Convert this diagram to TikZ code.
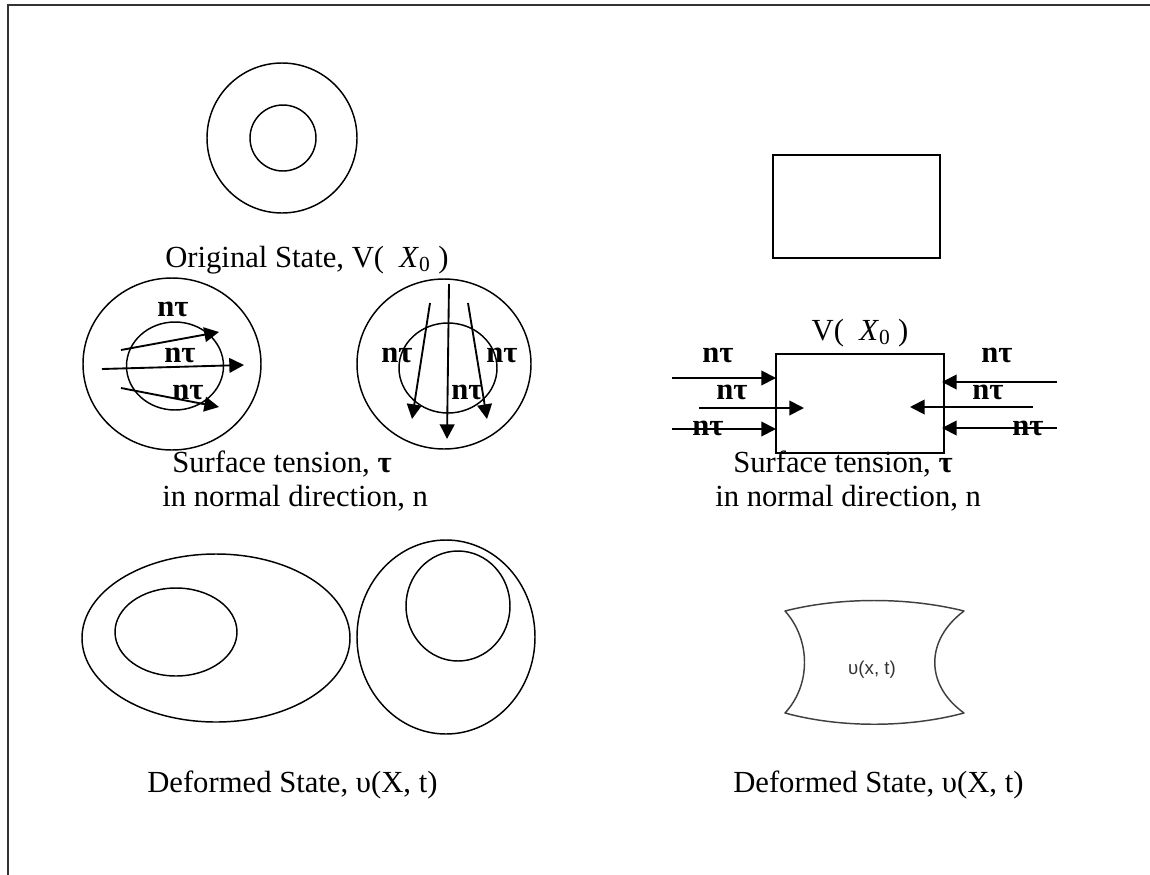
\documentclass[tikz,border=0pt]{standalone}
\usepackage{fontspec}
\setmainfont{Liberation Serif}
\newfontfamily\labelsans{Liberation Sans}
\usetikzlibrary{arrows.meta}
\tikzset{
  outline/.style={line width=1.1pt},
  force/.style={line width=1.4pt,-{Triangle[length=11pt,width=11pt]}},
  caption/.style={font=\fontsize{23}{27}\selectfont,inner sep=0pt,anchor=base west},
  ntau/.style={font=\fontsize{23}{27}\selectfont\bfseries,inner sep=0pt},
}
\newcommand{\Vzero}{V(\hspace{0.5em}\textit{X}\textsubscript{0}\hspace{0.25em})}
\begin{document}
\begin{tikzpicture}[x=0.75pt,y=-0.75pt]
\useasboundingbox (0,0) rectangle (1150,875);
% page frame
\draw[black!80,line width=1.5pt] (8,875) -- (8,5) -- (1150,5);

% ---- original state, ring
\draw[outline] (282,138) circle (75);
\draw[outline] (283,138) circle (33);
\node[caption] (origcap) at (165,267) {Original State, \Vzero};

% ---- original state, block
\draw[outline] (773,155) rectangle (940,258);
\node[caption,anchor=base] (blockcap) at (860,340) {\Vzero};

% ---- ring under surface tension, horizontal
\draw[outline] (172,364) ellipse (89 and 86);
\draw[outline] (175,366) ellipse (48.5 and 44);
\draw[force] (121,350) -- (219,332);
\draw[force] (102,369) -- (244,365);
\draw[force] (121,388) -- (219,407);
\node[ntau] (h1) at (173,309) {nτ};
\node[ntau] (h2) at (180,355) {nτ};
\node[ntau] (h3) at (188,392) {nτ};

% ---- ring under surface tension, vertical
\draw[outline] (444,364) ellipse (87 and 85);
\draw[outline] (448,368) ellipse (49 and 45);
\draw[force] (430,303) -- (412,419);
\draw[force] (449,284) -- (447,439);
\draw[force] (468,303) -- (487,419);
\node[ntau] (v1) at (397,355) {nτ};
\node[ntau] (v2) at (502,355) {nτ};
\node[ntau] (v3) at (467,392) {nτ};

\node[caption] (stcapL) at (172,472) {Surface tension, \textbf{τ}};
\node[caption] (ndcapL) at (162,506) {in normal direction, n};

% ---- block under surface tension
\draw[outline] (776,354) rectangle (944,453);
\draw[force] (672,378) -- (776,378);
\draw[force] (699,408) -- (804,408);
\draw[force] (672,429) -- (776,429);
\draw[force] (1057,382) -- (942,382);
\draw[force] (1033,407) -- (910,407);
\draw[force] (1057,428) -- (942,428);
\node[ntau] (l1) at (718,355) {nτ};
\node[ntau] (l2) at (732,392) {nτ};
\node[ntau] (l3) at (708,428) {nτ};
\node[ntau] (r1) at (997,355) {nτ};
\node[ntau] (r2) at (988,392) {nτ};
\node[ntau] (r3) at (1028,428) {nτ};

\node[caption] (stcapR) at (733,472) {Surface tension, \textbf{τ}};
\node[caption] (ndcapR) at (715,506) {in normal direction, n};

% ---- deformed rings
\draw[outline] (216,638) ellipse (134 and 84);
\draw[outline] (176,632) ellipse (61 and 44);
\draw[outline] (446,637) ellipse (89 and 97);
\draw[outline] (458,606) ellipse (52 and 55);
\node[caption] (defcapL) at (147,792) {Deformed State, υ(X, t)};

% ---- deformed block
\draw[black!75,line width=1.1pt,line join=round]
  (785,611) .. controls (840,597) and (908,597) .. (964,611)
            .. controls (925,640) and (925,685) .. (964,713)
            .. controls (908,728) and (840,728) .. (785,713)
            .. controls (811,685) and (811,640) .. (785,611) -- cycle;
\node[font=\labelsans\fontsize{14}{16}\selectfont,inner sep=0pt,black!80] (ulabel) at (872,670) {υ(x, t)};
\node[caption] (defcapR) at (733,792) {Deformed State, υ(X, t)};
\end{tikzpicture}
\end{document}
